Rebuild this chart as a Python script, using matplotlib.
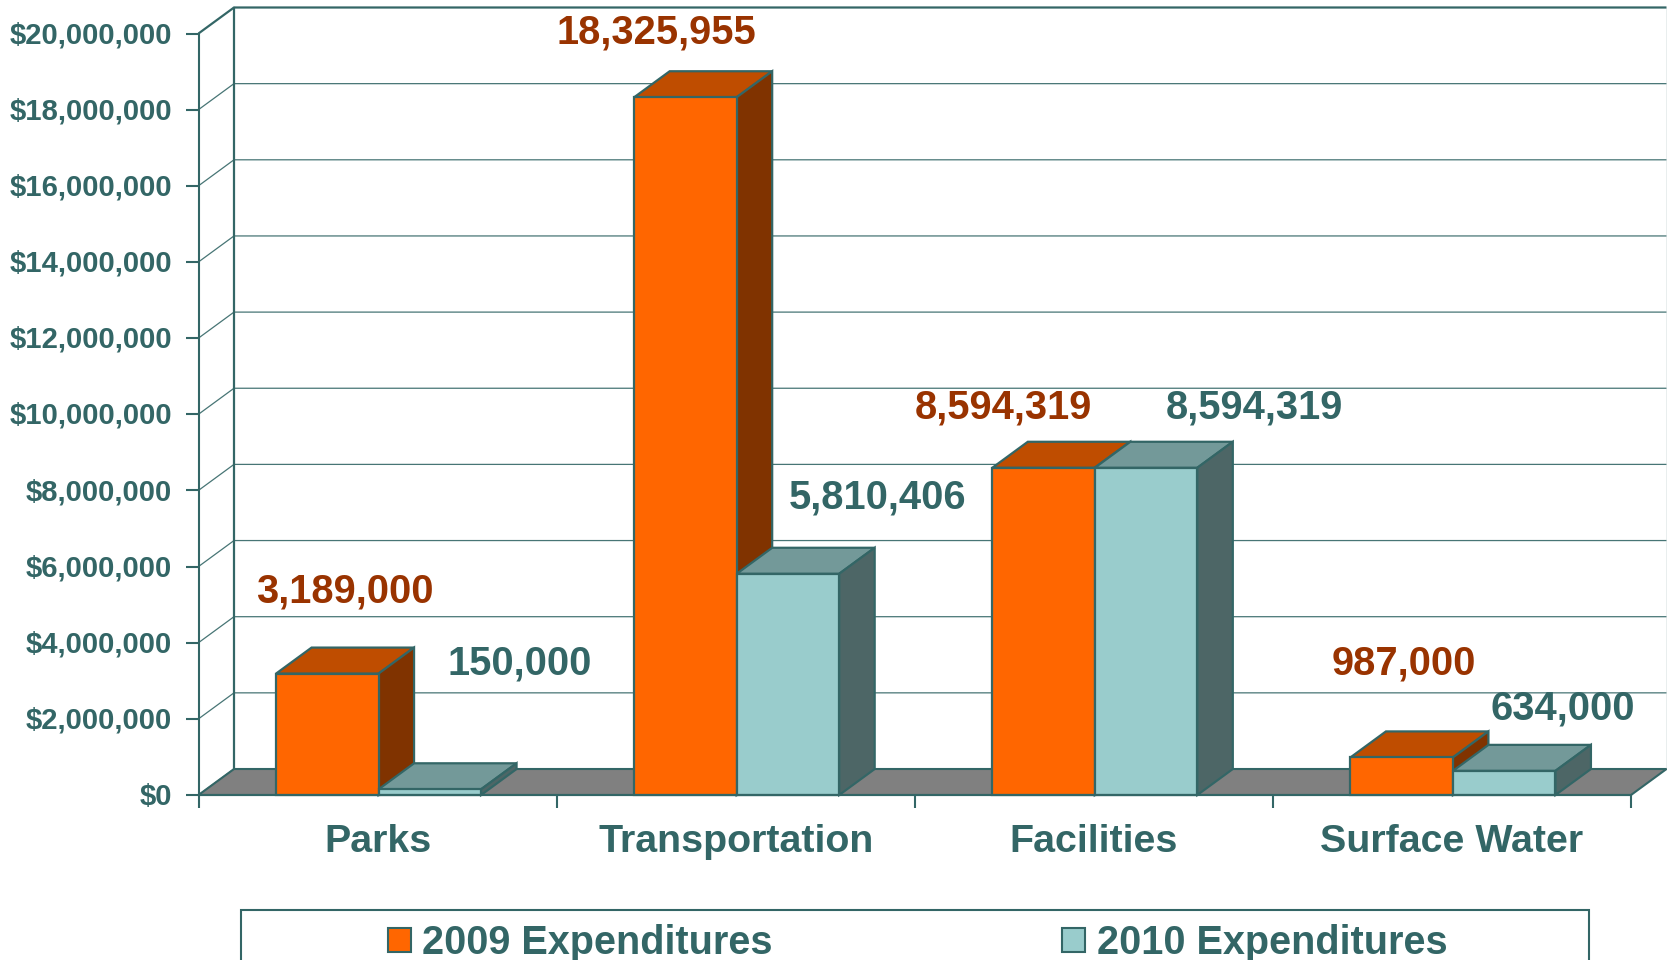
import matplotlib
matplotlib.use("Agg")
import matplotlib.pyplot as plt
from matplotlib.patches import Patch, Polygon, Rectangle
from matplotlib.transforms import Affine2D

plt.rcParams['font.family'] = ['Liberation Sans', 'DejaVu Sans']
plt.rcParams['font.weight'] = 'bold'

categories = ["Parks", "Transportation", "Facilities", "Surface Water"]
series_names = ["2009 Expenditures", "2010 Expenditures"]
values_2009 = [3189000, 18325955, 8594319, 987000]
values_2010 = [150000, 5810406, 8594319, 634000]
ytick_values = [0, 2000000, 4000000, 6000000, 8000000, 10000000,
                12000000, 14000000, 16000000, 18000000, 20000000]
ytick_labels = ["$0", "$2,000,000", "$4,000,000", "$6,000,000", "$8,000,000", "$10,000,000",
                "$12,000,000", "$14,000,000", "$16,000,000", "$18,000,000", "$20,000,000"]
# label offsets from the bar's top centre, in pixels (right, up)
offsets_2009 = [(17, 82), (-29, 65), (-40.5, 60), (2.5, 94)]
offsets_2010 = [(90, 126), (89.5, 76), (108, 60), (58.5, 62)]

W, H = 1667, 960
EDGE = "#336666"
faces = [("#FF6600", "#BF4D00", "#803300"), ("#99CCCC", "#739999", "#4D6666")]
label_colors = ["#993300", "#336666"]

fig = plt.figure(figsize=(W / 100, H / 100), dpi=100, facecolor="white")
L, R, B, T = 198.5, 1631, 795, 33.5
ax = fig.add_axes([L / W, 1 - B / H, (R - L) / W, (B - T) / H])
ax.set_xlim(0, len(categories))
ax.set_ylim(0, 20000000)
ax.patch.set_visible(False)

UNIT = (R - L) / len(categories)
DX = 35.5 / UNIT
DY = 26.0 / ((B - T) / 20000000)
BAR_W = 102.5 / UNIT
SHIFT = 1.0 / UNIT
n = len(categories)

# side wall and back wall grid
for v in ytick_values:
    lw = 1.6 if v == 20000000 else 0.9
    ax.plot([0, DX, n + DX], [v, v + DY, v + DY], color=EDGE, lw=lw, clip_on=False,
            zorder=1, solid_capstyle="butt", alpha=1 if v == 20000000 else 0.9)
ax.plot([DX, DX], [DY, 20000000 + DY], color=EDGE, lw=1.6, clip_on=False, zorder=1)
ax.plot([n + DX, n + DX], [DY, 20000000 + DY], color="#8FADAD", lw=1.0, clip_on=False, zorder=1)

# floor
ax.add_patch(Polygon([(0, 0), (n, 0), (n + DX, DY), (DX, DY)], closed=True, facecolor="#808080",
                     edgecolor=EDGE, lw=1.5, clip_on=False, zorder=2))

# bars
zo = 3
for i in range(n):
    for s, vals in enumerate((values_2009, values_2010)):
        v = vals[i]
        x0 = i + 0.5 + SHIFT + (s - 1) * BAR_W
        x1 = x0 + BAR_W
        front, top, side = faces[s]
        ax.bar(x0, v, BAR_W, align="edge", color=front, edgecolor=EDGE, linewidth=1.6,
               zorder=zo + 2, clip_on=False)
        ax.add_patch(Polygon([(x0, v), (x1, v), (x1 + DX, v + DY), (x0 + DX, v + DY)], closed=True,
                             facecolor=top, edgecolor=EDGE, lw=1.6, clip_on=False, zorder=zo))
        ax.add_patch(Polygon([(x1, 0), (x1 + DX, DY), (x1 + DX, v + DY), (x1, v)], closed=True,
                             facecolor=side, edgecolor=EDGE, lw=1.6, clip_on=False, zorder=zo + 1))
        zo += 3

# data labels
for s, (vals, offs) in enumerate(((values_2009, offsets_2009), (values_2010, offsets_2010))):
    for i, (v, off) in enumerate(zip(vals, offs)):
        xc = i + 0.5 + SHIFT + (s - 0.5) * BAR_W
        ax.annotate(f"{v:,}", xy=(xc, v), xytext=off, textcoords="offset pixels",
                    ha="center", va="center", fontsize=28.7, fontweight="bold",
                    color=label_colors[s], annotation_clip=False, zorder=200)

# axes
for name in ("top", "right"):
    ax.spines[name].set_visible(False)
for name in ("left", "bottom"):
    ax.spines[name].set_color(EDGE)
    ax.spines[name].set_linewidth(1.5)
    ax.spines[name].set_zorder(150)
ax.set_yticks(ytick_values)
ax.set_yticklabels(ytick_labels, fontsize=21.1, fontweight="bold", color=EDGE)
ax.tick_params(axis="y", length=9.4, width=1.5, color=EDGE, pad=9.5)
for lab in ax.get_yticklabels():
    lab.set_transform(lab.get_transform() + Affine2D().translate(0, 1.3))
ax.set_xticks(range(n + 1))
ax.set_xticklabels([])
ax.tick_params(axis="x", which="major", length=9.4, width=1.5, color=EDGE)
ax.set_xticks([i + 0.5 for i in range(n)], minor=True)
ax.set_xticklabels(categories, minor=True, fontsize=28.4, fontweight="bold", color=EDGE)
ax.tick_params(axis="x", which="minor", length=0, pad=21)

# legend frame, running off the bottom of the picture
fig.add_artist(Rectangle((241 / W, -0.05), (1589 - 241) / W, 0.05 + 1 - 910 / H,
                         facecolor="white", edgecolor=EDGE, lw=1.5, transform=fig.transFigure))
handles = [Patch(facecolor=faces[k][0], edgecolor=EDGE, lw=1.5) for k in range(2)]
leg = fig.legend(handles, series_names, loc="center", bbox_to_anchor=(917.5 / W, 1 - 943 / H),
                 ncol=2, frameon=False, labelcolor=EDGE, handlelength=0.58,
                 handleheight=0.58, handletextpad=0.3, columnspacing=7.3,
                 borderpad=0, borderaxespad=0, prop={"size": 28.5, "weight": "bold"})
leg.set_zorder(300)

fig.savefig("out.png", dpi=100, facecolor="white")
